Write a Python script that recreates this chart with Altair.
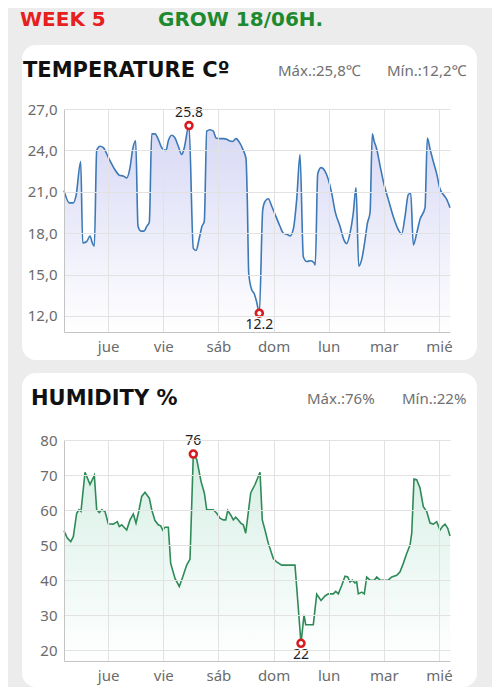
import altair as alt
import pandas as pd

# ---------------- data ----------------
day_labels = ["jue", "vie", "sáb", "dom", "lun", "mar", "mié"]
day_ticks = [1, 2, 3, 4, 5, 6, 7]

temp_ticks = [12, 15, 18, 21, 24, 27]
hum_ticks = [20, 30, 40, 50, 60, 70, 80]

# time in days since Wednesday 00:00
temp_t = [0.200, 0.296, 0.369, 0.418, 0.503, 0.539, 0.612, 0.672, 0.713, 0.750,
          0.793, 0.853, 0.913, 1.003, 1.125, 1.203, 1.275, 1.337, 1.397, 1.446,
          1.500, 1.542, 1.596, 1.651, 1.700, 1.747, 1.791, 1.850, 1.910, 1.972,
          2.050, 2.092, 2.153, 2.213, 2.273, 2.335, 2.376, 2.467, 2.545, 2.594,
          2.654, 2.703, 2.744, 2.788, 2.848, 2.908, 2.957, 3.029, 3.089, 3.151,
          3.198, 3.259, 3.319, 3.379, 3.452, 3.501, 3.524, 3.550, 3.604, 3.646,
          3.695, 3.742, 3.804, 3.845, 3.905, 3.967, 4.045, 4.117, 4.177, 4.250,
          4.299, 4.359, 4.420, 4.480, 4.540, 4.602, 4.674, 4.734, 4.757, 4.801,
          4.861, 4.933, 4.993, 5.055, 5.115, 5.205, 5.278, 5.327, 5.387, 5.447,
          5.496, 5.545, 5.599, 5.659, 5.701, 5.750, 5.791, 5.822, 5.871, 5.931,
          6.003, 6.081, 6.172, 6.263, 6.324, 6.384, 6.444, 6.488, 6.535, 6.596,
          6.656, 6.747, 6.789, 6.838, 6.897, 6.959, 7.019, 7.079, 7.140, 7.200]
temp_v = [21.1, 20.2, 20.2, 20.7, 23.2, 17.3, 17.4, 17.8, 17.3, 17.05,
          24.0, 24.3, 24.2, 23.5, 22.6, 22.2, 22.15, 22.0, 22.75, 24.1,
          24.7, 18.5, 18.15, 18.15, 18.5, 18.8, 25.2, 25.2, 24.8, 24.2,
          24.0, 24.7, 25.1, 24.9, 24.3, 23.7, 24.1, 25.8, 16.9, 16.75,
          17.65, 18.5, 18.85, 25.4, 25.5, 25.4, 24.9, 24.85, 24.85, 24.8,
          24.7, 24.65, 24.85, 24.6, 24.0, 23.4, 20.45, 15.1, 13.9, 13.65,
          13.0, 12.2, 19.7, 20.3, 20.5, 19.95, 19.2, 18.5, 18.0, 17.9,
          17.8, 18.3, 20.45, 23.7, 16.3, 15.95, 16.0, 15.85, 15.7, 22.3,
          22.75, 22.5, 21.9, 20.9, 19.6, 18.5, 17.5, 17.25, 18.0, 19.5,
          21.3, 15.6, 16.1, 17.5, 18.7, 19.5, 25.2, 24.7, 24.1, 22.9,
          21.55, 20.45, 19.2, 18.25, 17.95, 19.2, 20.8, 20.9, 17.15, 18.0,
          19.0, 19.85, 24.9, 24.1, 23.2, 22.3, 21.2, 20.8, 20.45, 19.85]

hum_t = [0.200, 0.260, 0.322, 0.369, 0.430, 0.472, 0.508, 0.581, 0.623, 0.672,
         0.750, 0.793, 0.840, 0.884, 0.944, 1.003, 1.094, 1.167, 1.203, 1.246,
         1.306, 1.337, 1.397, 1.457, 1.506, 1.555, 1.609, 1.669, 1.747, 1.791,
         1.850, 1.910, 1.954, 1.990, 2.032, 2.092, 2.135, 2.213, 2.291, 2.353,
         2.425, 2.485, 2.545, 2.607, 2.685, 2.745, 2.788, 2.908, 2.970, 3.029,
         3.089, 3.133, 3.169, 3.223, 3.270, 3.314, 3.361, 3.405, 3.452, 3.495,
         3.586, 3.664, 3.755, 3.796, 3.845, 3.905, 3.996, 4.057, 4.148, 4.389,
         4.498, 4.553, 4.583, 4.721, 4.783, 4.861, 4.933, 4.993, 5.084, 5.127,
         5.175, 5.236, 5.296, 5.345, 5.387, 5.429, 5.477, 5.508, 5.537, 5.599,
         5.646, 5.689, 5.750, 5.828, 5.871, 5.931, 6.081, 6.143, 6.234, 6.294,
         6.353, 6.415, 6.475, 6.506, 6.547, 6.596, 6.656, 6.716, 6.778, 6.838,
         6.897, 6.959, 7.019, 7.061, 7.110, 7.159, 7.200]
hum_v = [54.1, 52.0, 51.0, 52.4, 59.1, 60.1, 59.6, 70.8, 69.2, 67.3,
         69.9, 60.1, 59.3, 60.1, 59.6, 56.1, 56.0, 56.7, 55.3, 55.8,
         54.8, 54.3, 57.2, 58.9, 56.3, 59.6, 63.9, 65.1, 63.4, 60.1,
         57.0, 55.8, 55.5, 54.3, 55.1, 55.1, 44.8, 40.5, 38.2, 40.9,
         44.3, 46.0, 76.0, 74.5, 68.2, 64.9, 60.1, 60.1, 59.1, 57.7,
         57.2, 57.2, 59.9, 58.6, 57.2, 58.0, 57.2, 56.3, 55.8, 53.4,
         64.9, 67.3, 70.8, 57.2, 54.3, 50.5, 46.2, 45.2, 44.3, 44.3,
         22.0, 30.1, 27.3, 27.3, 36.0, 34.2, 35.5, 36.1, 36.1, 36.8,
         36.1, 38.5, 41.1, 40.9, 39.5, 40.0, 39.2, 39.5, 36.1, 36.6,
         36.1, 40.9, 40.0, 40.0, 40.9, 40.0, 40.0, 40.9, 41.4, 42.4,
         44.8, 47.6, 50.0, 53.4, 68.9, 68.7, 66.3, 61.0, 59.6, 56.3,
         56.0, 56.7, 54.3, 55.3, 56.0, 54.8, 52.6]

assert len(temp_t) == len(temp_v)
assert len(hum_t) == len(hum_v)

temp_df = pd.DataFrame({"t": temp_t, "v": temp_v})
hum_df = pd.DataFrame({"t": hum_t, "v": hum_v})
one = pd.DataFrame({"k": [0]})

W = 386
H1 = 223
H2 = 221

label_expr = "[" + ",".join(["''"] + [f"'{d}'" for d in day_labels]) + "][datum.value]"

x_enc = alt.X("t:Q", scale=alt.Scale(domain=[0.2, 7.2], nice=False, zero=False),
              axis=alt.Axis(values=day_ticks, labelExpr=label_expr, title=None,
                            grid=True, labelPadding=7, labelFontSize=15, zindex=1))

TEXT_FONT = "Noto Sans"
TITLE_FONT = "DejaVu Sans"


def deco_text(txt, x, y, color, size, font, weight="normal"):
    return alt.Chart(one).mark_text(align="left", baseline="middle", font=font,
                                    fontSize=size, fontWeight=weight, color=color
                                    ).encode(x=alt.value(x), y=alt.value(y), text=alt.value(txt))


def panel(df, H, ydomain, yticks, ylabel_expr, line_color, grad_top, fmt,
          card_y, title, title_x, smax, smin, smax_x, smin_x, interp, extra=None):
    y_enc = alt.Y("v:Q", scale=alt.Scale(domain=ydomain, nice=False, zero=False),
                  stack=None,
                  axis=alt.Axis(values=yticks, labelExpr=ylabel_expr, title=None,
                                labelPadding=7, labelFontSize=15, zindex=1))
    card = alt.Chart(one).mark_rect(fill="white", cornerRadius=14).encode(
        x=alt.value(-42), x2=alt.value(413), y=alt.value(card_y[0]), y2=alt.value(card_y[1]))
    grad = alt.Gradient(gradient="linear",
                        stops=[alt.GradientStop(color="#ffffff", offset=0),
                               alt.GradientStop(color=grad_top, offset=1)],
                        x1=1, x2=1, y1=1, y2=0)
    area = alt.Chart(df).mark_area(color=grad, interpolate=interp).encode(
        x=x_enc, y=y_enc, y2=alt.value(H))
    line = alt.Chart(df).mark_line(color=line_color, strokeWidth=1.6,
                                   interpolate=interp).encode(x=x_enc, y=y_enc)
    ext = alt.Chart(df).transform_joinaggregate(mx="max(v)", mn="min(v)").transform_filter(
        "datum.v == datum.mx || datum.v == datum.mn")
    pts = ext.mark_point(shape="circle", filled=False, fill="white", fillOpacity=1,
                         stroke="#d91b1f", strokeWidth=2.6, size=48, opacity=1).encode(
        x=x_enc, y=y_enc)
    tmax = ext.transform_filter("datum.v == datum.mx").mark_text(
        dy=-13, fontSize=14, font=TEXT_FONT, color="#222222").encode(
        x=x_enc, y=y_enc, text=alt.Text("v:Q", format=fmt))
    tmin = ext.transform_filter("datum.v == datum.mn").mark_text(
        dy=12, fontSize=14, font=TEXT_FONT, color="#222222").encode(
        x=x_enc, y=y_enc, text=alt.Text("v:Q", format=fmt))
    ty = card_y[0] + 26
    layers = []
    if extra is not None:
        layers += extra
    layers += [card, area, line, pts, tmax, tmin,
               deco_text(title, title_x, ty, "#111111", 21, TITLE_FONT, "bold"),
               deco_text(smax, smax_x, ty, "#707070", 15, TEXT_FONT),
               deco_text(smin, smin_x, ty, "#707070", 15, TEXT_FONT)]
    return alt.layer(*layers).properties(width=W, height=H)


def comma1(v):
    return f"{v:.1f}".replace(".", ",")


frame = alt.Chart(one).mark_rect(fill="#ececec").encode(
    x=alt.value(-56), x2=alt.value(428), y=alt.value(-101), y2=alt.value(578))
header = [frame,
          deco_text("WEEK 5", -44, -89, "#e5201d", 20, TITLE_FONT, "bold"),
          deco_text("GROW 18/06H.", 94, -89, "#1e8a30", 20, TITLE_FONT, "bold")]

temp_chart = panel(
    temp_df, H1, [10.84, 27.0], temp_ticks,
    "replace(format(datum.value, '.1f'), '.', ',')",
    "#3c79b6", "#d7d8f5", ".1f", (-64, 251), "TEMPERATURE Cº", -41,
    "Máx.:" + comma1(max(temp_v)) + "℃", "Mín.:" + comma1(min(temp_v)) + "℃",
    214, 323, "monotone", extra=header)

hum_chart = panel(
    hum_df, H2, [16.94, 80.0], hum_ticks, "format(datum.value, 'd')",
    "#2f8a58", "#d6efe5", ".0f", (-67, 247), "HUMIDITY %", -33,
    "Máx.:" + f"{max(hum_v):.0f}" + "%", "Mín.:" + f"{min(hum_v):.0f}" + "%",
    243, 338, "linear")

chart = alt.vconcat(temp_chart, hum_chart, spacing=108, bounds="flush").properties(
    padding=0, background="#ececec"
).configure_view(stroke=None).configure_axis(
    gridColor="#e2e2e2", domainColor="#c4c4c4", labelColor="#6b6b6b",
    labelFont=TEXT_FONT, ticks=False, gridWidth=1
)

chart.save("out.html", embed_options={"renderer": "svg", "actions": False})
